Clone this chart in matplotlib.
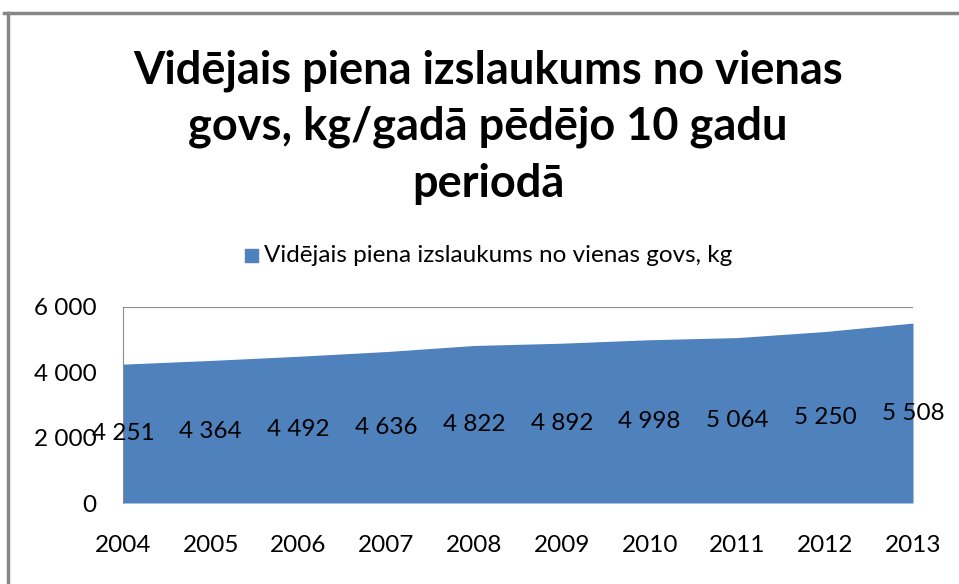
import matplotlib
matplotlib.use('Agg')
import matplotlib.pyplot as plt
from matplotlib.lines import Line2D

# data
years = [2004, 2005, 2006, 2007, 2008, 2009, 2010, 2011, 2012, 2013]
milk_kg = [4251, 4364, 4492, 4636, 4822, 4892, 4998, 5064, 5250, 5508]
yticks = [0, 2000, 4000, 6000]
title = 'Vidējais piena izslaukums no vienas\ngovs, kg/gadā pēdējo 10 gadu\nperiodā'
series_name = 'Vidējais piena izslaukums no vienas govs, kg'

def fmt(v):
    # thousands with a space, like the original
    return '{:,}'.format(v).replace(',', ' ')

plt.rcParams['font.family'] = ['Lato', 'DejaVu Sans']
W, H = 959, 584
fig = plt.figure(figsize=(W/100, H/100), dpi=100)
fig.patch.set_facecolor('white')

# outer frame (only top and left visible)
fig.add_artist(Line2D([4/W, 1], [1 - 13/H, 1 - 13/H], color='#878787', lw=2.5))
fig.add_artist(Line2D([8/W, 8/W], [0, 1 - 13/H], color='#878787', lw=2.5))

left, right, top, bottom = 123, 913, 307, 503
ax = fig.add_axes([left/W, 1 - bottom/H, (right - left)/W, (bottom - top)/H])

fs = 17.5
ax.fill_between(years, milk_kg, 0, color='#4F81BD', lw=0, zorder=2)
ax.set_xlim(years[0], years[-1])
ax.set_ylim(0, 6000)
ax.set_yticks(yticks)
ax.set_yticklabels([fmt(v) for v in yticks])
ax.set_xticks(years)
ax.set_xticklabels([str(y) for y in years])
ax.tick_params(axis='both', length=0, labelsize=fs, colors='black')
ax.tick_params(axis='y', pad=19)
ax.tick_params(axis='x', pad=23)
ax.grid(axis='y', color='#8c8c8c', lw=0.8, zorder=1)
ax.set_axisbelow(True)
for s in ['top', 'right', 'bottom']:
    ax.spines[s].set_visible(False)
ax.spines['left'].set_color('#8c8c8c')
ax.spines['left'].set_zorder(3)

for x, v in zip(years, milk_kg):
    ax.text(x, v/2, fmt(v), ha='center', va='center', fontsize=fs,
            color='black', zorder=4, clip_on=False)

fig.text(488/W, 1 - 127/H, title, ha='center', va='center', fontsize=32.5,
         fontweight='bold', linespacing=1.42)

# legend
fig.patches.append(plt.Rectangle((245/W, 1 - 262/H), 13/W, 13/H,
                                 transform=fig.transFigure, color='#4F81BD'))
fig.text(264/W, 1 - 256/H, series_name, ha='left', va='center', fontsize=fs)

fig.savefig('out.png', dpi=100)
